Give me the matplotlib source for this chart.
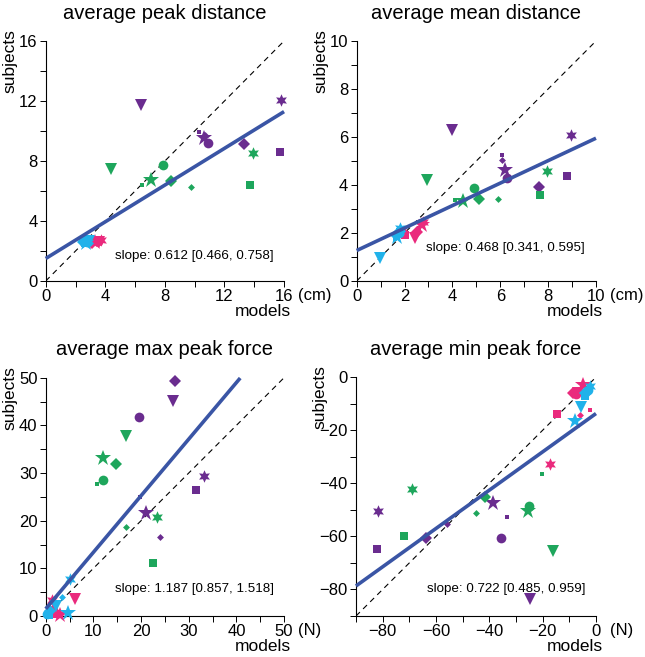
#!/usr/bin/env python

# Subjects vs models scatter, four panels.
import matplotlib.pyplot as plt
from matplotlib.ticker import MultipleLocator

plt.rcParams["font.family"] = ["Liberation Sans", "DejaVu Sans"]

groups = ["purple", "green", "pink", "cyan"]
group_colors = {"purple": "#6a2c8f", "green": "#1ea65c", "pink": "#ea2a7d", "cyan": "#20b2ea"}
shapes = ["star", "hexagram", "circle", "diamond", "triangle", "square", "small square", "small diamond"]
marker_style = {
    "star": ("*", 12),
    "hexagram": ((6, 1, 0), 9),
    "circle": ("o", 7),
    "diamond": ("D", 6),
    "triangle": ("v", 8),
    "square": ("s", 6),
    "small square": ("s", 3.5),
    "small diamond": ("D", 3.5),
}

# order: purple, green, pink, cyan; within each group the order of `shapes`
peak_models = [10.6, 15.8, 10.9, 13.3, 6.4, 15.7, 10.3, 10.7,
               7.05, 13.9, 7.85, 8.4, 4.4, 13.7, 6.45, 9.75,
               3.3, 3.7, 3.5, 3.1, 3.6, 3.2, 3.8, 3.4,
               2.7, 2.6, 2.8, 2.5, 2.9, 2.65, 2.4, 3.0]
peak_subjects = [9.5, 12.07, 9.2, 9.13, 11.7, 8.6, 9.95, 9.7,
                 6.7, 8.53, 7.7, 6.67, 7.45, 6.38, 6.4, 6.29,
                 2.6, 2.7, 2.65, 2.55, 2.6, 2.7, 2.75, 2.55,
                 2.55, 2.7, 2.6, 2.6, 2.65, 2.5, 2.75, 2.55]

mean_models = [6.21, 8.94, 6.3, 7.62, 3.97, 8.78, 6.07, 6.07,
               4.44, 7.97, 4.92, 5.11, 2.92, 7.66, 4.1, 5.9,
               2.72, 2.78, 1.95, 2.5, 2.44, 2.02, 2.6, 2.45,
               1.7, 1.81, 1.75, 1.65, 0.97, 1.8, 1.6, 1.9]
mean_subjects = [4.63, 6.1, 4.3, 3.93, 6.29, 4.38, 5.25, 5.05,
                 3.33, 4.6, 3.86, 3.4, 4.21, 3.58, 3.37, 3.42,
                 2.33, 2.47, 2.0, 2.05, 1.79, 1.92, 2.2, 1.95,
                 1.82, 2.22, 2.0, 1.9, 0.97, 2.05, 1.75, 2.1]

maxf_models = [21.0, 33.1, 19.6, 27.1, 26.6, 31.5, 19.8, 24.0,
               12.1, 23.4, 11.95, 14.75, 16.8, 22.6, 10.7, 16.8,
               3.0, 1.25, 1.5, 1.8, 6.15, 2.2, 1.0, 2.5,
               4.75, 5.1, 0.3, 1.0, 2.2, 0.6, 0.5, 3.35]
maxf_subjects = [21.7, 29.4, 41.7, 49.4, 45.1, 26.4, 25.0, 16.6,
                 33.2, 20.8, 28.5, 31.9, 37.8, 11.2, 27.6, 18.7,
                 0.2, 3.35, 1.2, 0.8, 3.5, 0.4, 0.6, 0.3,
                 0.7, 7.8, 0.5, 1.0, 2.0, 0.3, 0.8, 4.05]

minf_models = [-38.5, -81.6, -35.6, -63.75, -24.75, -82.2, -33.3, -56.0,
               -25.4, -69.1, -25.0, -41.6, -16.0, -71.9, -20.4, -45.0,
               -4.9, -17.25, -7.5, -8.5, -6.75, -14.5, -2.25, -6.0,
               -7.9, -2.25, -3.0, -4.0, -5.6, -4.1, -2.5, -3.5]
minf_subjects = [-47.3, -50.4, -60.5, -60.5, -83.7, -64.9, -52.6, -55.5,
                 -50.4, -42.3, -48.6, -45.0, -65.5, -59.9, -36.3, -51.0,
                 -2.8, -32.9, -6.2, -5.9, -5.9, -14.0, -12.2, -14.4,
                 -16.6, -3.4, -5.0, -6.0, -11.1, -7.1, -4.0, -6.5]

titles = ["average peak distance", "average mean distance",
          "average max peak force", "average min peak force"]
units = ["(cm)", "(cm)", "(N)", "(N)"]
slopes = [0.612, 0.468, 1.187, 0.722]
slope_ci = [(0.466, 0.758), (0.341, 0.595), (0.857, 1.518), (0.485, 0.959)]
intercepts = [1.5, 1.27, 1.5, -13.7]
limits = [(0, 16), (0, 10), (0, 50), (-90, 0)]
fit_ranges = [(0, 16), (0, 10), (0, 40.8), (-90, 0)]
major_steps = [4, 2, 10, 20]
minor_steps = [2, 1, 5, 10]
slope_text_pos = [(15.3, 1.67), (9.54, 1.37), (47.9, 5.6), (-4.1, -79.7)]

fig = plt.figure(figsize=(6.45, 6.57), dpi=100)
axes_rects = [
    [0.0709, 0.5723, 0.3695, 0.3653],
    [0.5530, 0.5723, 0.3710, 0.3653],
    [0.0709, 0.0624, 0.3695, 0.3627],
    [0.5519, 0.0624, 0.3721, 0.3635],
]
data = [(peak_models, peak_subjects), (mean_models, mean_subjects),
        (maxf_models, maxf_subjects), (minf_models, minf_subjects)]

for i in range(4):
    ax = fig.add_axes(axes_rects[i])
    lo, hi = limits[i]
    xs, ys = data[i]

    # identity line
    ax.plot([lo, hi], [lo, hi], color="black", linewidth=0.8, dashes=(5, 4), zorder=1)

    k = 0
    for g in groups:
        for s in shapes:
            m, ms = marker_style[s]
            ax.plot(xs[k], ys[k], marker=m, markersize=ms, color=group_colors[g],
                    markeredgewidth=0, linestyle="none", zorder=3, clip_on=False)
            k += 1

    # regression fit
    x0, x1 = fit_ranges[i]
    ax.plot([x0, x1], [intercepts[i] + slopes[i] * x0, intercepts[i] + slopes[i] * x1],
            color="#3a55a5", linewidth=2.6, solid_capstyle="butt", zorder=4, clip_on=False)

    tx, ty = slope_text_pos[i]
    ax.text(tx, ty, f"slope: {slopes[i]:.3f} [{slope_ci[i][0]:.3f}, {slope_ci[i][1]:.3f}]",
            ha="right", va="center", fontsize=9.6)

    ax.set_xlim(lo, hi)
    ax.set_ylim(lo, hi)
    for side in ["top", "right"]:
        ax.spines[side].set_visible(False)
    for side in ["left", "bottom"]:
        ax.spines[side].set_linewidth(0.8)
    ax.xaxis.set_major_locator(MultipleLocator(major_steps[i]))
    ax.yaxis.set_major_locator(MultipleLocator(major_steps[i]))
    ax.xaxis.set_minor_locator(MultipleLocator(minor_steps[i]))
    ax.yaxis.set_minor_locator(MultipleLocator(minor_steps[i]))
    ax.tick_params(which="both", direction="out", length=4, width=0.7, labelsize=12, pad=2)
    ax.set_yticklabels([f"{int(v)}".replace("-", "\u2212") for v in ax.get_yticks()])
    ax.set_xticklabels([f"{int(v)}".replace("-", "\u2212") for v in ax.get_xticks()])

    ax.annotate(units[i], xy=(1, 0), xycoords="axes fraction", xytext=(10, -5),
                textcoords="offset points", ha="left", va="top", fontsize=12)
    ax.set_title(titles[i], fontsize=14.5, pad=16)
    ax.text(-0.15, 1.05, "subjects", transform=ax.transAxes, rotation=90,
            ha="center", va="top", fontsize=12.5)
    ax.text(1.03, -0.095, "models", transform=ax.transAxes,
            ha="right", va="top", fontsize=12.5)

fig.savefig("out.png", dpi=100)
plt.close()
